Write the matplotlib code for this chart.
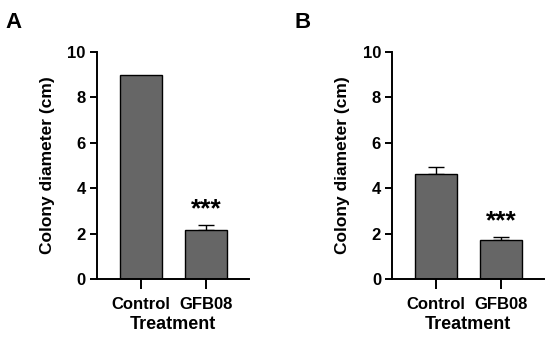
import matplotlib
matplotlib.use("Agg")
import matplotlib.pyplot as plt

plt.rcParams['font.family'] = ['Liberation Sans', 'DejaVu Sans']
plt.rcParams['font.weight'] = 'bold'

groups = ["Control", "GFB08"]
means_a = [9.0, 2.15]
err_a = [0.0, 0.23]
means_b = [4.62, 1.72]
err_b = [0.32, 0.15]
stars = ["", "***"]
panels = ["A", "B"]

fig = plt.figure(figsize=(5.5, 3.42), dpi=100)
ax_a = fig.add_axes([0.176, 0.184, 0.277, 0.664])
ax_b = fig.add_axes([0.713, 0.184, 0.276, 0.664])

for ax, means, err in [(ax_a, means_a, err_a), (ax_b, means_b, err_b)]:
    x = list(range(len(groups)))
    ax.bar(x, means, width=0.65, color="#666666", edgecolor="black", linewidth=1.0, zorder=2)
    for xi, m, e, s in zip(x, means, err, stars):
        if e > 0:
            ax.errorbar(xi, m + e / 2, yerr=e / 2, fmt="none", ecolor="black",
                        elinewidth=1.0, capsize=6, capthick=1.0, zorder=1)
        if s:
            ax.text(xi, m + e + 0.15, s, ha="center", va="bottom", fontsize=19, fontweight="bold")
    ax.set_xlim(-0.677, 1.66)
    ax.set_ylim(0, 10)
    ax.set_yticks([0, 2, 4, 6, 8, 10])
    ax.set_xticks(x)
    ax.set_xticklabels(groups, fontsize=12, fontweight="bold")
    ax.tick_params(axis="y", labelsize=12, width=1.4, length=5, pad=3)
    ax.tick_params(axis="x", width=1.4, length=7, pad=6)
    for t in ax.get_yticklabels():
        t.set_fontweight("bold")
    ax.spines["top"].set_visible(False)
    ax.spines["right"].set_visible(False)
    ax.spines["left"].set_linewidth(1.4)
    ax.spines["bottom"].set_linewidth(1.4)
    ax.set_ylabel("Colony diameter (cm)", fontsize=12.5, fontweight="bold", labelpad=9)
    ax.set_xlabel("Treatment", fontsize=13, fontweight="bold", labelpad=3)

fig.text(0.009, 0.965, panels[0], fontsize=16, fontweight="bold", va="top")
fig.text(0.535, 0.965, panels[1], fontsize=16, fontweight="bold", va="top")

fig.savefig("out.png", dpi=100)
